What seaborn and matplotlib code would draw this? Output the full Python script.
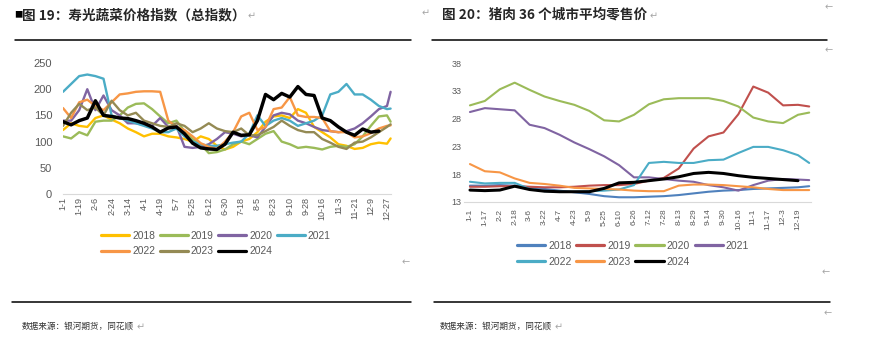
import numpy as np
import pandas as pd
import seaborn as sns
import matplotlib.pyplot as plt

# === 图19 寿光蔬菜价格指数, sampled every 9 days (day of year) ===
veg_days = list(range(0, 361, 9)) + [364]
veg_2018 = [122, 135, 130, 128, 145, 150, 142, 135, 125, 118, 110, 115, 115, 110, 108, 105, 100, 110, 105, 92, 85,
            90, 100, 105, 118, 138, 148, 150, 145, 162, 155, 128, 118, 108, 95, 92, 86, 88, 95, 98, 96, 106]
veg_2019 = [110, 106, 118, 112, 138, 140, 140, 150, 165, 172, 173, 162, 148, 135, 140, 120, 105, 95, 78, 80, 85,
            95, 100, 95, 105, 115, 120, 100, 95, 88, 90, 88, 85, 90, 92, 90, 95, 110, 130, 148, 150, 138]
veg_2020 = [140, 140, 160, 200, 160, 188, 160, 150, 135, 135, 132, 130, 145, 128, 130, 90, 88, 90, 95, 105, 118,
            115, 110, 112, 108, 128, 150, 155, 152, 140, 135, 128, 122, 120, 118, 120, 125, 135, 148, 162, 168, 195]
veg_2021 = [195, 210, 225, 228, 225, 220, 150, 145, 140, 135, 130, 125, 118, 118, 125, 110, 100, 95, 92, 92, 95,
            98, 100, 115, 150, 130, 140, 145, 140, 130, 135, 140, 150, 190, 195, 210, 190, 190, 180, 168, 162, 163]
veg_2022 = [164, 145, 175, 180, 168, 160, 175, 190, 192, 195, 196, 196, 195, 140, 128, 122, 110, 97, 90, 86, 100,
            118, 148, 155, 122, 128, 162, 165, 185, 150, 147, 147, 145, 120, 118, 118, 108, 110, 116, 125, 130, 131]
veg_2023 = [130, 155, 172, 160, 165, 150, 178, 160, 150, 155, 140, 135, 130, 128, 135, 130, 118, 125, 135, 125, 120,
            118, 125, 112, 112, 120, 128, 140, 130, 122, 118, 118, 105, 98, 90, 86, 98, 100, 108, 118, 128, 133]
veg_2024 = [138, 132, 140, 145, 178, 150, 148, 145, 144, 140, 135, 128, 118, 126, 128, 115, 97, 88, 86, 85, 95,
            118, 112, 113, 140, 190, 180, 192, 185, 205, 190, 188, 145, 140, 128, 118, 112, 124, 118, 120, np.nan, np.nan]
veg_ticks = ["1-1", "1-19", "2-6", "2-24", "3-14", "4-1", "4-19", "5-7", "5-25", "6-12", "6-30",
             "7-18", "8-5", "8-23", "9-10", "9-28", "10-16", "11-3", "11-21", "12-9", "12-27"]
veg_yticks = [0, 50, 100, 150, 200, 250]

# === 图20 猪肉36个城市平均零售价, sampled every 16 days ===
pork_days = list(range(0, 353, 16)) + [364]
pork_2018 = [15.9, 15.9, 16.0, 15.9, 15.6, 15.3, 15.0, 14.7, 14.4, 14.0, 13.8, 13.8,
             13.9, 14.0, 14.2, 14.5, 14.8, 15.0, 15.1, 15.3, 15.4, 15.5, 15.6, 15.8]
pork_2019 = [15.7, 15.7, 15.8, 15.8, 15.7, 15.6, 15.6, 15.7, 15.9, 16.0, 16.0, 16.2,
             16.8, 17.3, 19.0, 22.6, 24.8, 25.5, 28.8, 33.8, 32.7, 30.4, 30.5, 30.2]
pork_2020 = [30.4, 31.2, 33.3, 34.5, 33.2, 32.0, 31.2, 30.5, 29.4, 27.7, 27.5, 28.7,
             30.6, 31.5, 31.7, 31.7, 31.7, 31.2, 30.2, 28.2, 27.5, 27.2, 28.7, 29.1]
pork_2021 = [29.2, 29.9, 29.7, 29.5, 26.9, 26.3, 25.1, 23.7, 22.5, 21.2, 19.6, 17.4,
             17.4, 17.1, 16.8, 16.6, 16.0, 15.6, 15.0, 16.0, 16.8, 17.1, 17.0, 16.9]
pork_2022 = [16.6, 16.3, 16.4, 16.4, 15.3, 14.9, 14.8, 14.8, 14.9, 15.0, 15.2, 16.0,
             20.0, 20.2, 20.0, 20.0, 20.5, 20.6, 21.8, 22.9, 22.9, 22.3, 21.4, 20.0]
pork_2023 = [19.8, 18.5, 18.3, 17.2, 16.4, 16.2, 15.9, 15.5, 15.4, 15.3, 15.2, 15.0,
             14.9, 14.9, 15.9, 16.1, 16.1, 16.0, 15.8, 15.6, 15.3, 15.1, 15.1, 15.1]
pork_2024 = [15.1, 15.0, 15.1, 15.8, 15.2, 14.9, 14.8, 14.8, 14.8, 15.4, 16.4, 16.5,
             16.8, 17.1, 17.5, 18.1, 18.3, 18.1, 17.7, 17.4, 17.2, 17.0, 16.8, np.nan]
pork_ticks = ["1-1", "1-17", "2-2", "2-18", "3-6", "3-22", "4-7", "4-23", "5-9", "5-25", "6-10", "6-26",
              "7-12", "7-28", "8-13", "8-29", "9-14", "9-30", "10-16", "11-1", "11-17", "12-3", "12-19"]
pork_yticks = [13, 18, 23, 28, 33, 38]

years = ["2018", "2019", "2020", "2021", "2022", "2023", "2024"]
veg_colors = ["#FFC000", "#9BBB59", "#8064A2", "#4BACC6", "#F79646", "#948A54", "#000000"]
pork_colors = ["#4F81BD", "#C0504D", "#9BBB59", "#8064A2", "#4BACC6", "#F79646", "#000000"]

W, H = 881, 355
GRAY = "#595959"


def fx(px):
    return px / W


def fy(py):
    return 1 - py / H


def draw_panel(ax, days, series, colors, tick_step, tick_labels, yticks, lw, xlab_size, ylab_size, xpad, ypad):
    for name, vals, col in zip(years, series, colors):
        df = pd.DataFrame({"day": days, "val": vals}).dropna()
        width = lw * 1.45 if name == "2024" else lw
        sns.lineplot(data=df, x="day", y="val", color=col, linewidth=width, label=name, ax=ax)
    ax.set_ylim(yticks[0], yticks[-1])
    ax.set_yticks(yticks)
    ax.set_yticklabels([str(v) for v in yticks])
    ax.set_xticks([i * tick_step for i in range(len(tick_labels))])
    ax.set_xticklabels(tick_labels, rotation=90)
    ax.tick_params(axis="x", length=0, pad=xpad, labelsize=xlab_size, labelcolor=GRAY)
    ax.tick_params(axis="y", length=0, pad=ypad, labelsize=ylab_size, labelcolor=GRAY)
    for t in ax.get_xticklabels() + ax.get_yticklabels():
        t.set_family("Liberation Sans")
    ax.set_xlabel("")
    ax.set_ylabel("")
    sns.despine(ax=ax, left=True)
    ax.spines["bottom"].set_color("#D9D9D9")
    ax.spines["bottom"].set_linewidth(0.8)
    ax.grid(False)


def add_legend(ax, fig, cx, cy, size):
    handles, labels = ax.get_legend_handles_labels()
    order = [0, 4, 1, 5, 2, 6, 3]
    ax.legend([handles[i] for i in order], [labels[i] for i in order], ncol=4, loc="center",
              bbox_to_anchor=(fx(cx), fy(cy)), bbox_transform=fig.transFigure, frameon=False,
              prop={"family": "Liberation Sans", "size": size}, labelcolor=GRAY,
              handlelength=2.7, handletextpad=0.3, columnspacing=0.45, labelspacing=0.55)
    for line in ax.get_legend().get_lines():
        line.set_linewidth(2.3)


sns.set_theme(style="white")
plt.rcParams["font.family"] = ["Noto Sans CJK SC", "DejaVu Sans"]

fig = plt.figure(figsize=(W / 100, H / 100), dpi=100)

# left panel
ax1 = fig.add_axes([fx(62.55), fy(194), fx(328.95), 131 / H])
draw_panel(ax1, veg_days, [veg_2018, veg_2019, veg_2020, veg_2021, veg_2022, veg_2023, veg_2024],
           veg_colors, 18, veg_ticks, veg_yticks, 1.7, 6.5, 8, 2.2, 7.5)
ax1.set_xlim(-0.5, 365)
add_legend(ax1, fig, 216, 243.5, 7.4)

# right panel
ax2 = fig.add_axes([fx(463.9), fy(201.7), fx(346.7), 138.4 / H])
draw_panel(ax2, pork_days, [pork_2018, pork_2019, pork_2020, pork_2021, pork_2022, pork_2023, pork_2024],
           pork_colors, 16, pork_ticks, pork_yticks, 1.5, 6, 6.5, 5, 1.5)
ax2.set_xlim(-6.5, 365.5)
add_legend(ax2, fig, 633, 254, 7.5)

# titles, rules and source notes
fig.text(fx(14), fy(15), "■", fontsize=6, va="center", color="black")
t1 = fig.text(fx(22), fy(15), "图 19：寿光蔬菜价格指数（总指数）", fontsize=9.8, fontweight="bold", va="center")
t2 = fig.text(fx(442), fy(15), "图 20：猪肉 36 个城市平均零售价", fontsize=9.8, fontweight="bold", va="center")
s1 = fig.text(fx(22), fy(326), "数据来源：银河期货，同花顺", fontsize=6.2, va="center", color="#333333")
s2 = fig.text(fx(440), fy(326), "数据来源：银河期货，同花顺", fontsize=6.2, va="center", color="#333333")

for (x0, x1, y) in [(15, 411, 40), (432, 827, 40), (12, 411, 302), (434, 830, 302)]:
    fig.add_artist(plt.Line2D([fx(x0), fx(x1)], [fy(y), fy(y)], color="black", linewidth=1.1))

fig.canvas.draw()
renderer = fig.canvas.get_renderer()
for t in [t1, t2, s1, s2]:
    bb = t.get_window_extent(renderer)
    fig.text(fx(bb.x1 + 2), fy(H - (bb.y0 + bb.y1) / 2) - 0.004, "↵", fontsize=7, va="center",
             color="#A6A6A6", family=["DejaVu Sans"])

for (x, y, ch) in [(426, 13, "↵"), (829, 7, "←"), (829, 50, "←"), (406, 262, "←"), (826, 272, "←"), (828, 313, "←")]:
    fig.text(fx(x), fy(y), ch, fontsize=7, va="center", ha="center", color="#A6A6A6", family=["DejaVu Sans"])

fig.savefig("out.png", dpi=100)
